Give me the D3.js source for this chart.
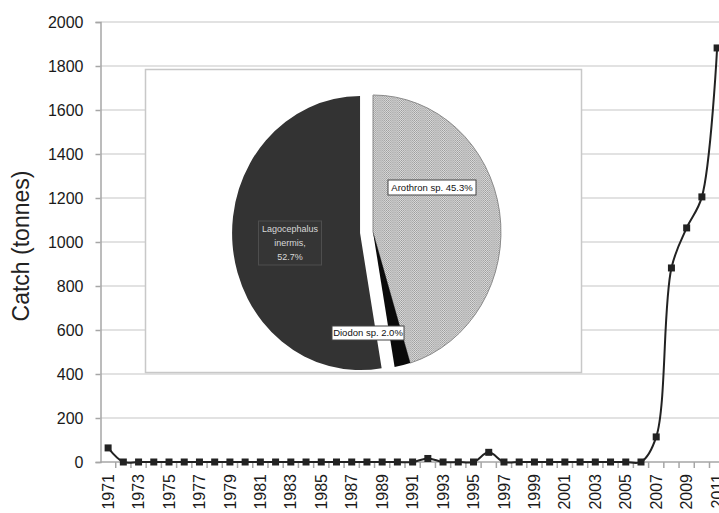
<!DOCTYPE html>
<html>
<head>
<meta charset="utf-8">
<script src="https://cdn.jsdelivr.net/npm/d3@7"></script>
<style>
  body { margin: 0; background: #fff; }
  svg { display: block; overflow: hidden; }
</style>
</head>
<body>
<div id="chart"></div>
<script>
// catch by year (tonnes)
const years = d3.range(1971, 2012);
const catchValues = [
  64, 0, 0, 0, 0, 0, 0, 0, 0, 0,
  0, 0, 0, 0, 0, 0, 0, 0, 0, 0,
  0, 16, 0, 0, 0, 44, 0, 0, 0, 0,
  0, 0, 0, 0, 0, 0, 114, 882, 1064, 1205,
  1882
];
const yTicks = [0, 200, 400, 600, 800, 1000, 1200, 1400, 1600, 1800, 2000];
const labelYears = years.filter((d, i) => i % 2 === 0);

// inset pie: species share (%)
const species = ["Arothron sp.", "Diodon sp.", "Lagocephalus inermis,"];
const shares = [45.3, 2.0, 52.7];

const width = 719, height = 513;

const svg = d3.select("#chart")
    .append("svg")
    .attr("width", width)
    .attr("height", height)
    .style("font-family", "'Liberation Sans', Arial, sans-serif");

// scales
const x = d3.scaleBand().domain(years).range([100.5, 100.5 + 41 * 15.225]);
const y = d3.scaleLinear().domain([0, 2000]).range([462, 22]);
const axisX = 100.5;

// gridlines
svg.append("g")
    .selectAll("line")
    .data(yTicks.filter(d => d > 0))
    .join("line")
    .attr("x1", axisX)
    .attr("x2", width)
    .attr("y1", d => y(d))
    .attr("y2", d => y(d))
    .attr("stroke", "#d9d9d9")
    .attr("stroke-width", 1.5);

// y axis
const yAxis = svg.append("g")
    .attr("transform", `translate(${axisX},0)`)
    .call(d3.axisLeft(y).tickValues(yTicks).tickFormat(d3.format("d")).tickSize(5).tickPadding(12));
yAxis.select(".domain").attr("stroke", "#a6a6a6").attr("stroke-width", 1.5);
yAxis.selectAll(".tick line").attr("stroke", "#a6a6a6").attr("stroke-width", 1.5);
yAxis.selectAll("text")
    .style("font-size", "16px")
    .attr("fill", "#1a1a1a");

// y axis title
svg.append("text")
    .attr("transform", "rotate(-90)")
    .attr("x", -246)
    .attr("y", 29)
    .attr("text-anchor", "middle")
    .style("font-size", "23px")
    .attr("fill", "#222")
    .text("Catch (tonnes)");

// x axis baseline + boundary ticks
svg.append("line")
    .attr("x1", axisX).attr("x2", width)
    .attr("y1", y(0)).attr("y2", y(0))
    .attr("stroke", "#a6a6a6").attr("stroke-width", 1.5);

svg.append("g")
    .selectAll("line")
    .data(years)
    .join("line")
    .attr("x1", d => x(d) + x.bandwidth())
    .attr("x2", d => x(d) + x.bandwidth())
    .attr("y1", y(0))
    .attr("y2", y(0) + 6)
    .attr("stroke", "#a6a6a6")
    .attr("stroke-width", 1.5);

const xAxis = svg.append("g")
    .attr("transform", `translate(0,${y(0)})`)
    .call(d3.axisBottom(x).tickValues(labelYears).tickSize(0));
xAxis.select(".domain").remove();
xAxis.selectAll("text")
    .attr("transform", "rotate(-90)")
    .attr("text-anchor", "end")
    .attr("x", -12)
    .attr("y", 0)
    .attr("dy", "0.35em")
    .style("font-size", "16px")
    .attr("fill", "#1a1a1a");

// inset box
svg.append("rect")
    .attr("x", 145.5)
    .attr("y", 69.5)
    .attr("width", 436)
    .attr("height", 303)
    .attr("fill", "#fff")
    .attr("stroke", "#c8c8c8")
    .attr("stroke-width", 1.5);

// dotted texture for Arothron
const defs = svg.append("defs");
const pat = defs.append("pattern")
    .attr("id", "dots")
    .attr("width", 2)
    .attr("height", 2)
    .attr("patternUnits", "userSpaceOnUse");
pat.append("rect").attr("width", 2).attr("height", 2).attr("fill", "#dcdcdc");
pat.append("rect").attr("width", 1).attr("height", 1).attr("fill", "#9a9a9a");
pat.append("rect").attr("x", 1).attr("y", 1).attr("width", 1).attr("height", 1).attr("fill", "#a8a8a8");

// pie
const pieR = 137;
const pieCx = 373, pieCy = 232;
const sliceFill = { "Arothron sp.": "url(#dots)", "Diodon sp.": "#0a0a0a", "Lagocephalus inermis,": "#333333" };
const sliceStroke = { "Arothron sp.": "#8a8a8a", "Diodon sp.": "none", "Lagocephalus inermis,": "none" };
const explode = { "Arothron sp.": 0, "Diodon sp.": 0, "Lagocephalus inermis,": 13 };

const pie = d3.pie().sort(null).value(d => d.share);
const arc = d3.arc().innerRadius(0).outerRadius(pieR);
const pieData = pie(species.map((s, i) => ({ name: s, share: shares[i] })));

const pieG = svg.append("g")
    .attr("transform", `translate(${pieCx},${pieCy})`);

pieG.selectAll("path")
    .data(pieData)
    .join("path")
    .attr("transform", d => {
        const a = (d.startAngle + d.endAngle) / 2;
        const e = explode[d.data.name];
        return `translate(${Math.sin(a) * e},${-Math.cos(a) * e}) scale(0.934,1)`;
    })
    .attr("d", arc)
    .attr("fill", d => sliceFill[d.data.name])
    .attr("stroke", d => sliceStroke[d.data.name])
    .attr("stroke-width", 1)
    .attr("vector-effect", "non-scaling-stroke");

// pie labels
const labelPos = {
    "Arothron sp.": { dx: 59, dy: -44.5, w: 88, h: 15 },
    "Diodon sp.": { dx: -5, dy: 101, w: 72, h: 14 },
    "Lagocephalus inermis,": { dx: -83, dy: 11, w: 63, h: 44 }
};

pieData.forEach(d => {
    const p = labelPos[d.data.name];
    const g = pieG.append("g").attr("transform", `translate(${p.dx},${p.dy})`);
    const dark = d.data.name === "Lagocephalus inermis,";
    g.append("rect")
        .attr("x", -p.w / 2)
        .attr("y", -p.h / 2)
        .attr("width", p.w)
        .attr("height", p.h)
        .attr("fill", dark ? "#353535" : "#fff")
        .attr("stroke", dark ? "#4e4e4e" : "#444")
        .attr("stroke-width", 1);
    const lines = dark
        ? ["Lagocephalus", "inermis,", d.data.share.toFixed(1) + "%"]
        : [d.data.name + " " + d.data.share.toFixed(1) + "%"];
    g.selectAll("text")
        .data(lines)
        .join("text")
        .attr("text-anchor", "middle")
        .attr("y", (t, i) => (i - (lines.length - 1) / 2) * 14)
        .attr("dy", "0.35em")
        .style("font-size", dark ? "9px" : "9.5px")
        .attr("fill", dark ? "#d8d8d8" : "#111")
        .text(t => t);
});

// catch line
const points = years.map((yr, i) => ({ year: yr, value: catchValues[i] }));
const line = d3.line()
    .x(d => x(d.year) + x.bandwidth() / 2)
    .y(d => y(d.value))
    .curve(d3.curveCatmullRom);

svg.append("path")
    .datum(points)
    .attr("fill", "none")
    .attr("stroke", "#222")
    .attr("stroke-width", 2)
    .attr("d", line);

svg.append("g")
    .selectAll("rect")
    .data(points)
    .join("rect")
    .attr("x", d => x(d.year) + x.bandwidth() / 2 - 3.5)
    .attr("y", d => y(d.value) - 3.5)
    .attr("width", 7)
    .attr("height", 7)
    .attr("fill", "#222");
</script>
</body>
</html>
